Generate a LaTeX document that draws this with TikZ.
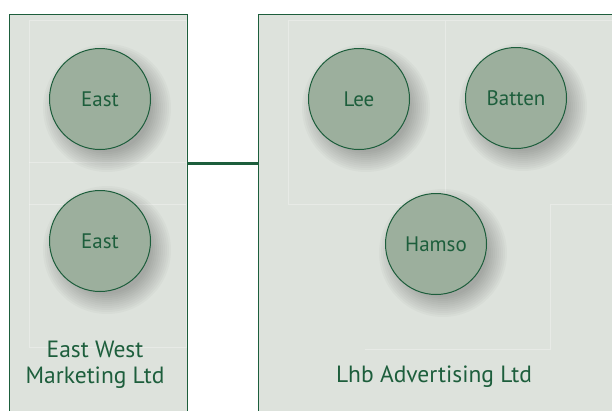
\documentclass[tikz,border=0pt]{standalone}
\usepackage{fontspec}
\setmainfont{PT Sans}
\definecolor{panelfill}{HTML}{DDE2DC}
\definecolor{darkgreen}{HTML}{1D5E3C}
\definecolor{personfill}{HTML}{9CAF9D}
\tikzset{
  company/.style={draw=darkgreen, line width=1.2pt, fill=panelfill, anchor=north west, inner sep=0pt},
  person/.style={circle, draw=darkgreen, line width=1pt, fill=personfill, minimum size=101pt, inner sep=0pt,
    text=darkgreen, font=\fontsize{21}{24}\selectfont},
  halo/.style={black, opacity=0.022},
  title/.style={text=darkgreen, font=\fontsize{23.5}{26}\selectfont, align=center},
  faint/.style={white, opacity=0.3, line width=0.6pt},
  connector/.style={darkgreen, line width=3pt}
}
\begin{document}
\begin{tikzpicture}[x=1pt,y=-1pt]
  \useasboundingbox (0,0) rectangle (612,410);
  \clip (0,0) rectangle (612,410);
  \node[company, minimum width=178pt, minimum height=410pt] (eastwest) at (9,14) {};
  \node[company, minimum width=370pt, minimum height=410pt] (lhb) at (258,14) {};
  % faint group outlines
  \draw[faint] (29,20) rectangle (186,347);
  \draw[faint] (29,162) -- (186,162) (29,204) -- (186,204);
  \draw[faint] (288,20) rectangle (445,204) (445,20) -- (620,20);
  \draw[faint] (550,204) -- (620,204) (550,204) -- (550,349) -- (365,349);
  \coordinate (tie) at (0,163);
  \draw[connector] (eastwest.east |- tie) -- (lhb.west |- tie);
  % people with soft shadows
  \foreach \name/\pos/\who in {east1/{100,99}/East, east2/{100,241}/East, lee/{359,99}/Lee,
                               batten/{516,98}/Batten, hamso/{436,244}/Hamso} {
    \foreach \r in {44,46,...,64}
      \fill[halo, shift={(\pos)}] (7,9) circle (\r pt);
    \node[person] (\name) at (\pos) {\who};
  }
  \node[title] (ewname) at (95,365) {East West\\Marketing Ltd};
  \node[title] (lhbname) at (434,377) {Lhb Advertising Ltd};
\end{tikzpicture}
\end{document}
